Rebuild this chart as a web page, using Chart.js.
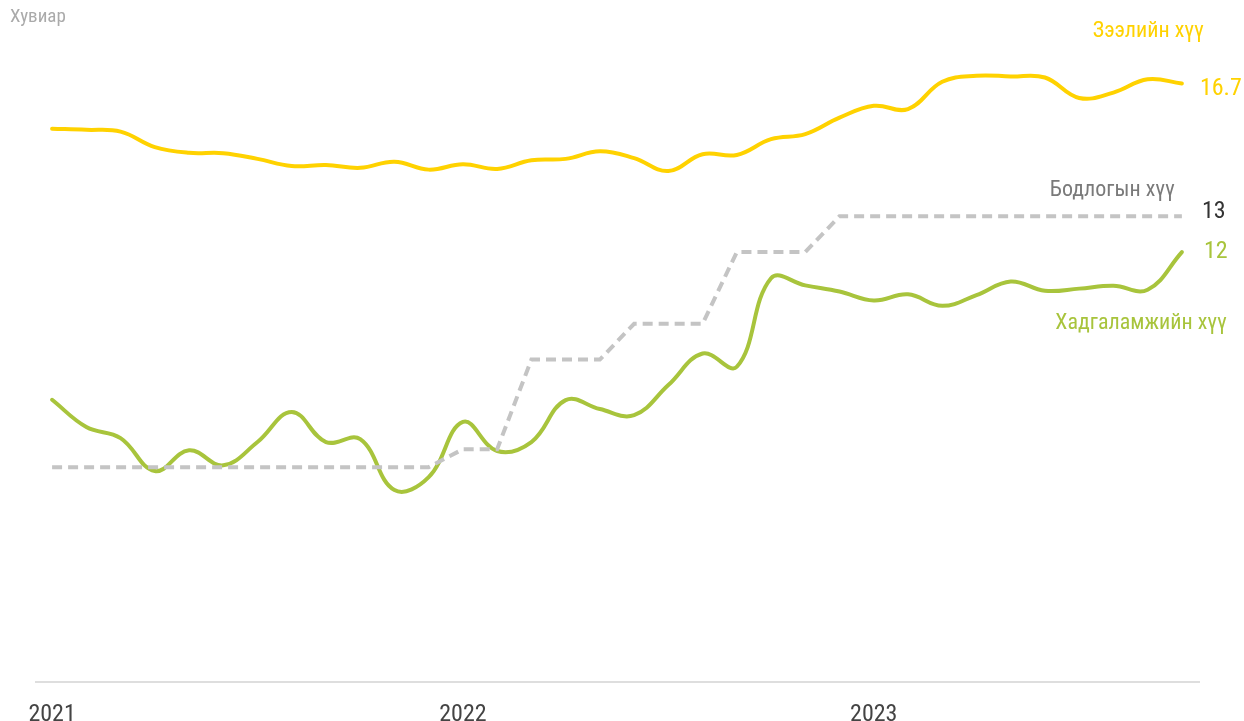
<!doctype html>
<html lang="mn">
<head>
  <meta charset="utf-8">
  <title>Хүүний түвшин</title>
  <script src="https://cdn.jsdelivr.net/npm/chart.js@4.4.0/dist/chart.umd.min.js"></script>
  <style>
    html, body { margin: 0; padding: 0; background: #fff; }
    #wrap { position: relative; width: 1244px; height: 721px; }
  </style>
</head>
<body>
  <div id="wrap">
    <canvas id="rateChart" width="1244" height="721"></canvas>
  </div>

  <script>
    // months from 2021-01 to 2023-10
    var months = [];
    for (var y = 2021; y <= 2023; y++) {
      for (var m = 1; m <= 12; m++) {
        if (y === 2023 && m > 10) break;
        months.push(y + '-' + (m < 10 ? '0' + m : m));
      }
    }
    var yearTicks = [0, 12, 24];
    var yearLabels = ['2021', '2022', '2023'];

    // Зээлийн хүү
    var loanRate = [15.44, 15.41, 15.36, 14.93, 14.77, 14.76, 14.6, 14.4, 14.43, 14.35, 14.52, 14.3,
      14.45, 14.32, 14.56, 14.6, 14.81, 14.62, 14.26, 14.73, 14.71, 15.15, 15.29, 15.75,
      16.08, 15.99, 16.75, 16.92, 16.9, 16.87, 16.3, 16.45, 16.82, 16.7];
    // Бодлогын хүү
    var policyRate = [6, 6, 6, 6, 6, 6, 6, 6, 6, 6, 6, 6,
      6.5, 6.5, 9, 9, 9, 10, 10, 10, 12, 12, 12, 13,
      13, 13, 13, 13, 13, 13, 13, 13, 13, 13];
    // Хадгаламжийн хүү
    var depositRate = [7.88, 7.12, 6.81, 5.89, 6.47, 6.05, 6.7, 7.54, 6.7, 6.78, 5.36, 5.72,
      7.26, 6.45, 6.7, 7.87, 7.62, 7.45, 8.29, 9.17, 8.8, 11.27, 11.07, 10.9,
      10.65, 10.82, 10.5, 10.8, 11.18, 10.92, 10.98, 11.06, 10.95, 12];

    var FONT = "'Roboto Condensed', 'Liberation Sans Narrow', 'DejaVu Sans Condensed', Roboto, sans-serif";
    var YELLOW = '#FFD200';
    var GREEN = '#A8C43C';
    var GREY = '#C4C4C4';

    function pts(arr) {
      return arr.map(function (v, i) { return { x: i, y: v }; });
    }

    // end labels next to the lines
    var endLabels = {
      id: 'endLabels',
      afterDatasetsDraw: function (chart) {
        var ctx = chart.ctx;
        var xs = chart.scales.x, ys = chart.scales.y;
        var last = months.length - 1;
        var px = xs.getPixelForValue(last);
        ctx.save();
        ctx.textBaseline = 'middle';

        ctx.font = '19px ' + FONT;
        ctx.fillStyle = '#AAAAAA';
        ctx.textAlign = 'left';
        ctx.fillText('Хувиар', 10, 17);

        ctx.font = '24px ' + FONT;
        ctx.fillStyle = YELLOW;
        ctx.fillText(String(loanRate[last]), px + 18, ys.getPixelForValue(loanRate[last]) + 5);
        ctx.fillStyle = '#333';
        ctx.fillText(String(policyRate[last]), px + 20, ys.getPixelForValue(policyRate[last]) - 4);
        ctx.fillStyle = GREEN;
        ctx.fillText(String(depositRate[last]), px + 22, ys.getPixelForValue(depositRate[last]));

        ctx.font = '22px ' + FONT;
        ctx.textAlign = 'right';
        ctx.fillStyle = YELLOW;
        ctx.fillText('Зээлийн хүү', px + 22, 31);
        ctx.fillStyle = '#7A7A7A';
        ctx.fillText('Бодлогын хүү', px - 7, 190);
        ctx.fillStyle = GREEN;
        ctx.fillText('Хадгаламжийн хүү', px + 45, 323);
        ctx.restore();
      }
    };

    var chart = new Chart(document.getElementById('rateChart'), {
      type: 'line',
      data: {
        datasets: [{
          label: 'Зээлийн хүү',
          data: pts(loanRate),
          borderColor: YELLOW,
          borderWidth: 4,
          tension: 0.4,
          pointRadius: 0,
          borderCapStyle: 'round'
        }, {
          label: 'Бодлогын хүү',
          data: pts(policyRate),
          borderColor: GREY,
          borderWidth: 4,
          borderDash: [10, 6],
          tension: 0,
          pointRadius: 0
        }, {
          label: 'Хадгаламжийн хүү',
          data: pts(depositRate),
          borderColor: GREEN,
          borderWidth: 4,
          tension: 0.4,
          pointRadius: 0,
          borderCapStyle: 'round'
        }]
      },
      options: {
        responsive: false,
        animation: false,
        layout: { padding: { left: 36, right: 45, top: 37, bottom: -26 } },
        plugins: {
          legend: { display: false },
          tooltip: { enabled: false }
        },
        scales: {
          x: {
            type: 'linear',
            min: -0.47,
            max: 33.5,
            afterBuildTicks: function (axis) {
              axis.ticks = yearTicks.map(function (v) { return { value: v }; });
            },
            grid: { display: false, drawTicks: false },
            border: { display: true, color: '#DEDEDE', width: 2 },
            ticks: {
              padding: 18,
              color: '#444',
              font: { family: FONT, size: 24 },
              maxRotation: 0,
              autoSkip: false,
              callback: function (v) {
                var k = yearTicks.indexOf(v);
                return k >= 0 ? yearLabels[k] : '';
              }
            }
          },
          y: {
            display: false,
            min: 0,
            max: 18
          }
        }
      },
      plugins: [endLabels]
    });
  </script>
</body>
</html>
